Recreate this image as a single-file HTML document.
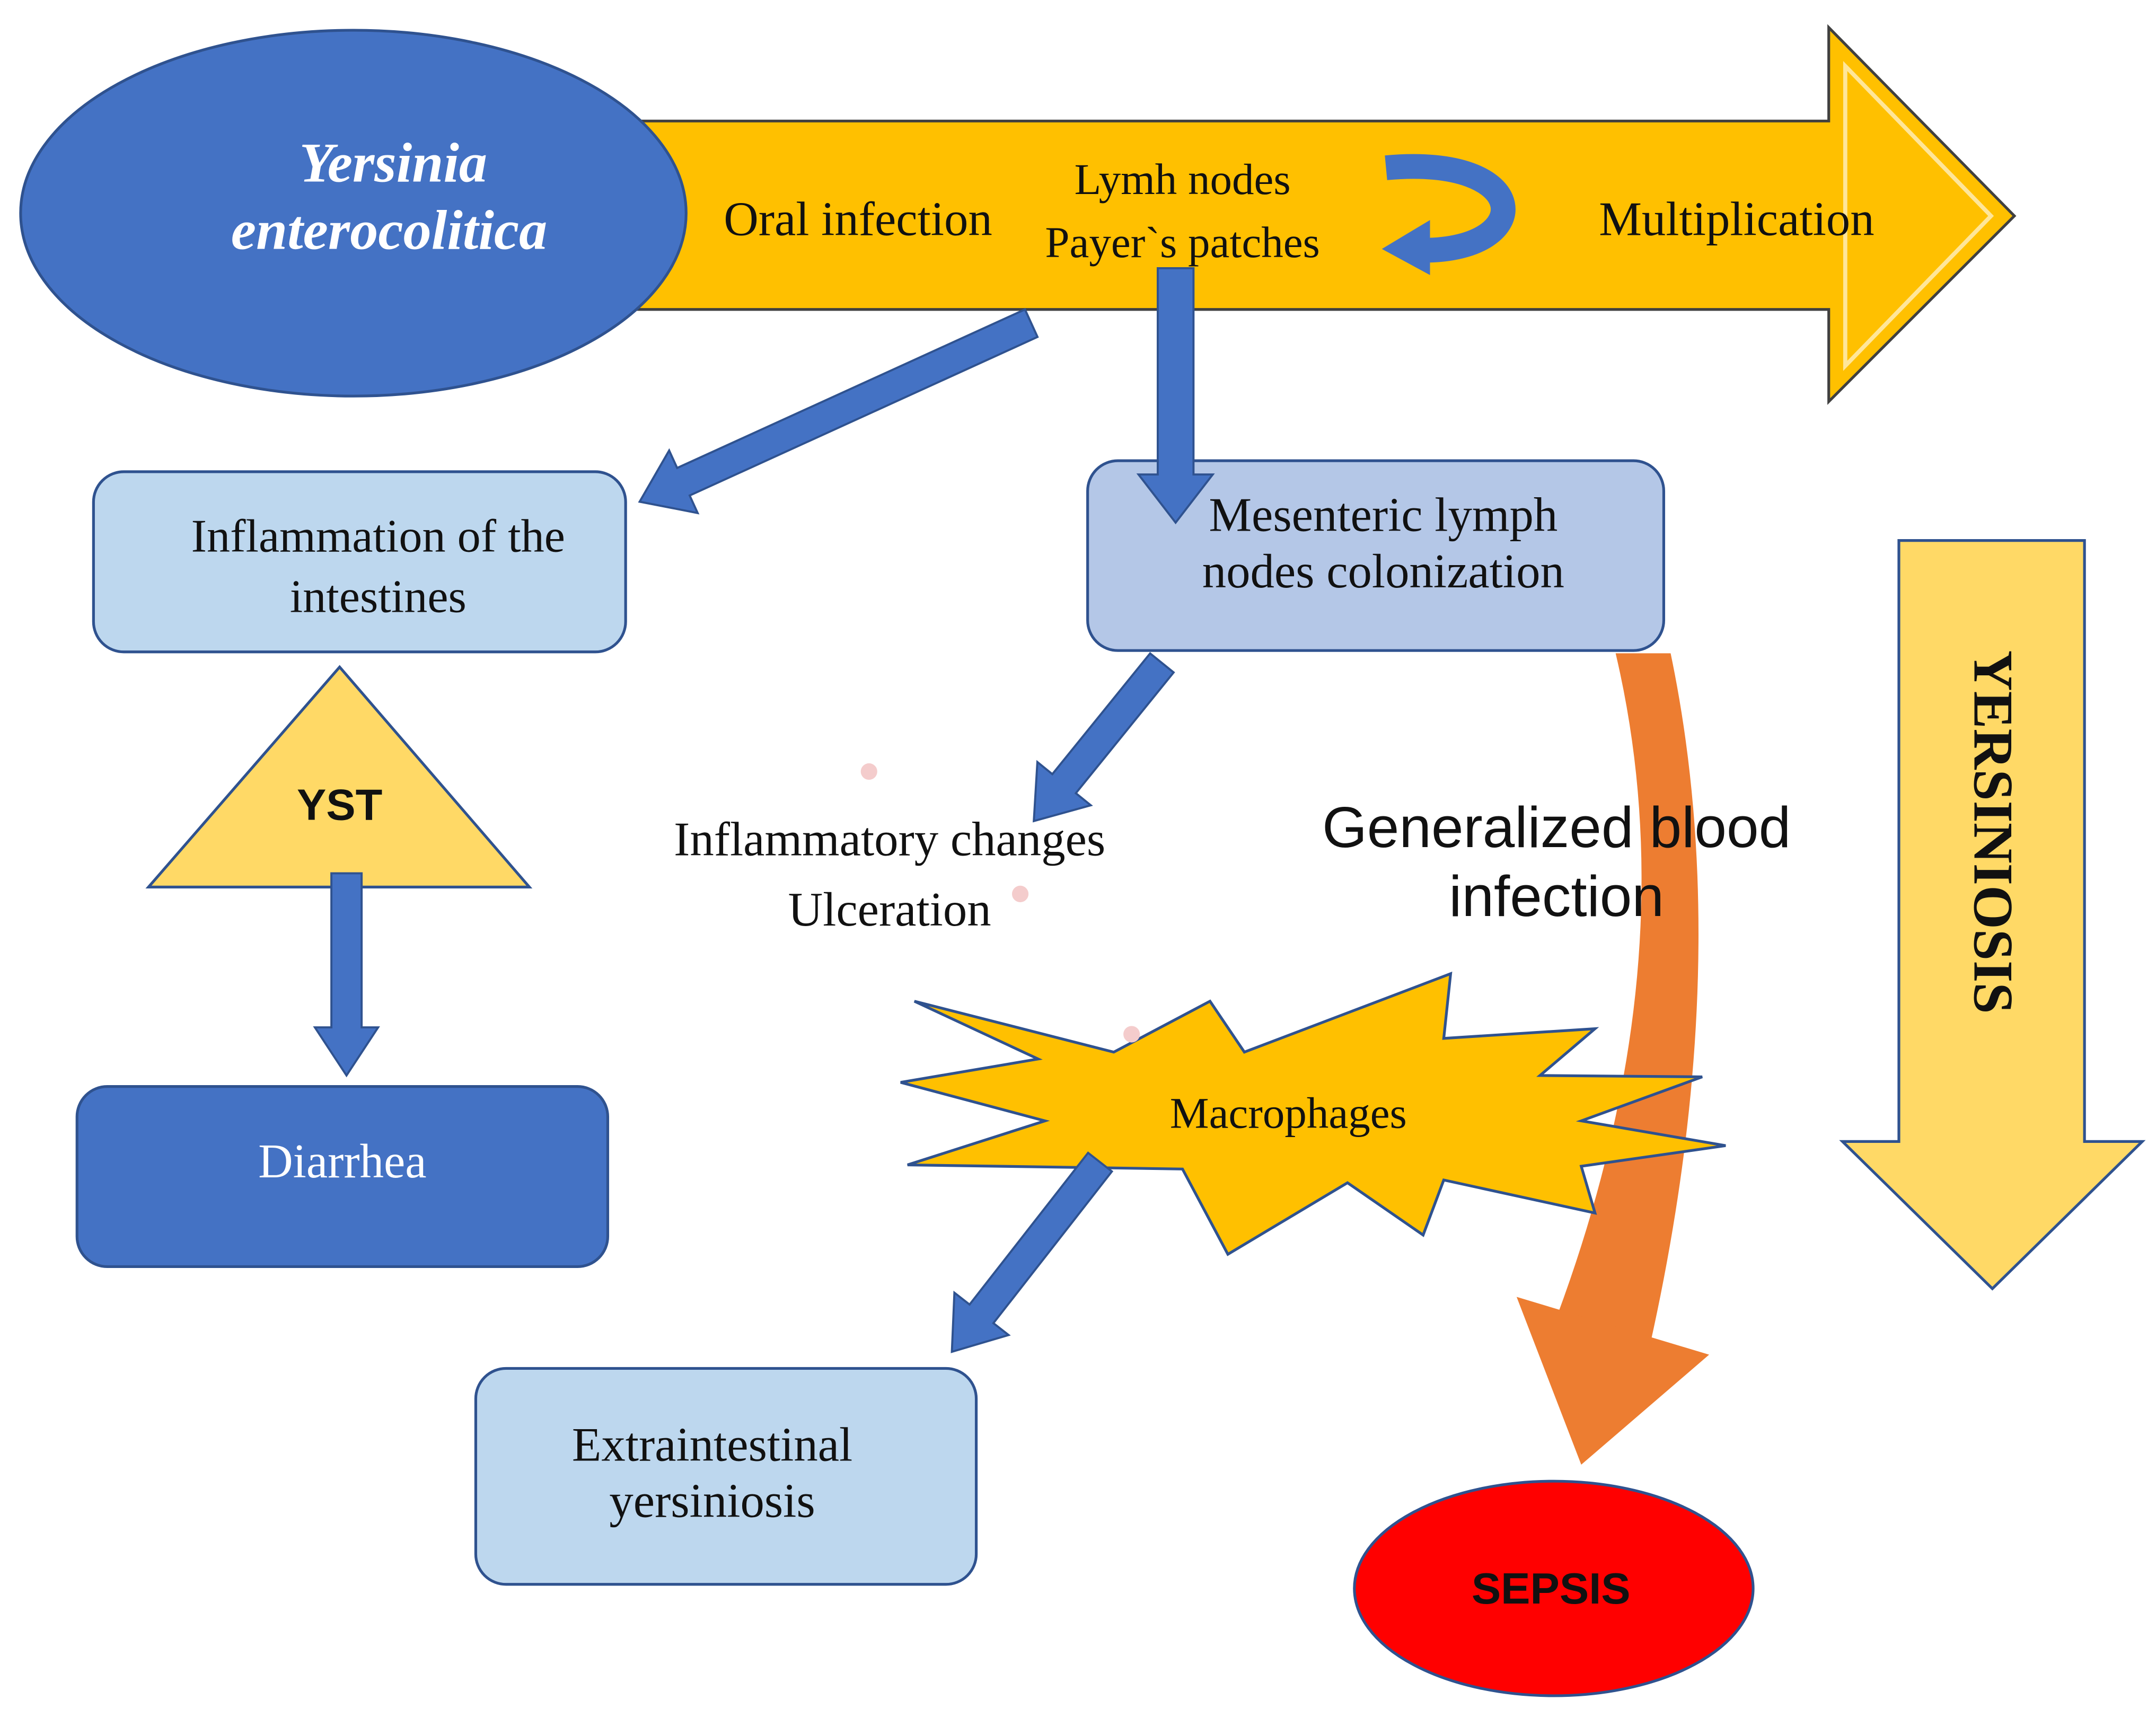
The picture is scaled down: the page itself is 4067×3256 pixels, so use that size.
<!DOCTYPE html>
<html><head><meta charset="utf-8"><style>html,body{margin:0;padding:0;background:#fff}svg{display:block}</style></head>
<body>
<svg width="4067" height="3256" viewBox="0 0 1568 1255" preserveAspectRatio="none" xmlns="http://www.w3.org/2000/svg">
<rect width="1568" height="1255" fill="#fff"/>
<polygon points="440,88 1330,88 1330,20 1465,157 1330,292 1330,225 440,225" fill="#FFC000" stroke="#404040" stroke-width="2"/>
<polygon points="1342,48 1448,157 1342,266" fill="none" stroke="#FFE699" stroke-width="3"/>
<ellipse cx="257" cy="155" rx="242" ry="133" fill="#4472C4" stroke="#2F528F" stroke-width="2"/>
<g font-family="Liberation Serif, serif" text-anchor="middle">
<text x="286" y="132" font-size="41" font-style="italic" font-weight="bold" fill="#fff">Yersinia</text>
<text x="283" y="181" font-size="41" font-style="italic" font-weight="bold" fill="#fff">enterocolitica</text>
<text x="624" y="171" font-size="35" fill="#111">Oral infection</text>
<text x="860" y="141" font-size="32" fill="#111">Lymh nodes</text>
<text x="860" y="187" font-size="32" fill="#111">Payer`s patches</text>
<text x="1263" y="171" font-size="35" fill="#111">Multiplication</text>
</g>
<path d="M1008,122 C1115,112 1118,182 1035,182" fill="none" stroke="#4472C4" stroke-width="18"/>
<polygon points="1005,181 1040,160 1040,200" fill="#4472C4"/>
<rect x="68" y="343" width="387" height="131" rx="22" fill="#BDD7EE" stroke="#2F528F" stroke-width="2"/>
<rect x="791" y="335" width="419" height="138" rx="22" fill="#B4C7E7" stroke="#2F528F" stroke-width="2"/>
<rect x="56" y="790" width="386" height="131" rx="22" fill="#4472C4" stroke="#2F528F" stroke-width="2"/>
<rect x="346" y="995" width="364" height="157" rx="22" fill="#BDD7EE" stroke="#2F528F" stroke-width="2"/>
<polygon points="247,485 108,645 385,645" fill="#FFD966" stroke="#2F528F" stroke-width="2"/>
<polygon points="1381,393 1516,393 1516,830 1558,830 1449,937 1340,830 1381,830" fill="#FFD966" stroke="#2F528F" stroke-width="2"/>
<path d="M1175,475 Q1228,700 1132,958 L1200,978 Q1262,700 1215,475 Z" fill="#ED7D31"/>
<polygon points="1103,943 1243,985 1150,1065" fill="#ED7D31"/>
<polygon points="665,728 810,765 880,728 905,765 1055,708 1050,755 1160,748 1120,782 1238,783 1150,815 1255,833 1150,848 1160,882 1050,858 1035,898 980,860 893,912 860,850 660,847 760,815 655,787 755,770" fill="#FFC000" stroke="#2F528F" stroke-width="2"/>
<g fill="#4472C4" stroke="#2F528F" stroke-width="1.5">
<polygon transform="translate(750,235) rotate(155.5)" points="0,-11 278,-11 278,-25 313,0 278,25 278,11 0,11"/>
<polygon transform="translate(855,195) rotate(90)" points="0,-13 150,-13 150,-27 185,0 150,27 150,13 0,13"/>
<polygon transform="translate(845,482) rotate(129)" points="0,-11 113,-11 113,-25 148,0 113,25 113,11 0,11"/>
<polygon transform="translate(252,635) rotate(90)" points="0,-11 112,-11 112,-23 147,0 112,23 112,11 0,11"/>
<polygon transform="translate(800,845) rotate(128)" points="0,-11 140,-11 140,-25 175,0 140,25 140,11 0,11"/>
</g>
<circle cx="632" cy="561" r="6" fill="#F4CCCC"/>
<circle cx="742" cy="650" r="6" fill="#F4CCCC"/>
<circle cx="823" cy="752" r="6" fill="#F4CCCC"/>
<g font-family="Liberation Serif, serif" text-anchor="middle" fill="#111">
<text x="275" y="401" font-size="34">Inflammation of the</text>
<text x="275" y="445" font-size="34">intestines</text>
<text x="1006" y="386" font-size="35">Mesenteric lymph</text>
<text x="1006" y="427" font-size="35">nodes colonization</text>
<text x="249" y="856" font-size="35" fill="#fff">Diarrhea</text>
<text x="518" y="1062" font-size="35">Extraintestinal</text>
<text x="518" y="1103" font-size="35">yersiniosis</text>
<text x="647" y="622" font-size="35">Inflammatory changes</text>
<text x="647" y="673" font-size="35">Ulceration</text>
<text x="937" y="820" font-size="32">Macrophages</text>
<text transform="translate(1436,605) rotate(90)" font-size="41" font-weight="bold">YERSINIOSIS</text>
</g>
<g font-family="Liberation Sans, sans-serif" text-anchor="middle" fill="#111">
<text x="247" y="596" font-size="32" font-weight="bold">YST</text>
<text x="1132" y="616" font-size="42">Generalized blood</text>
<text x="1132" y="666" font-size="42">infection</text>
</g>
<ellipse cx="1130" cy="1155" rx="145" ry="78" fill="#FF0000" stroke="#2F528F" stroke-width="2"/>
<text x="1128" y="1166" font-family="Liberation Sans, sans-serif" font-size="32" font-weight="bold" text-anchor="middle" fill="#111">SEPSIS</text>
</svg>
</body></html>
